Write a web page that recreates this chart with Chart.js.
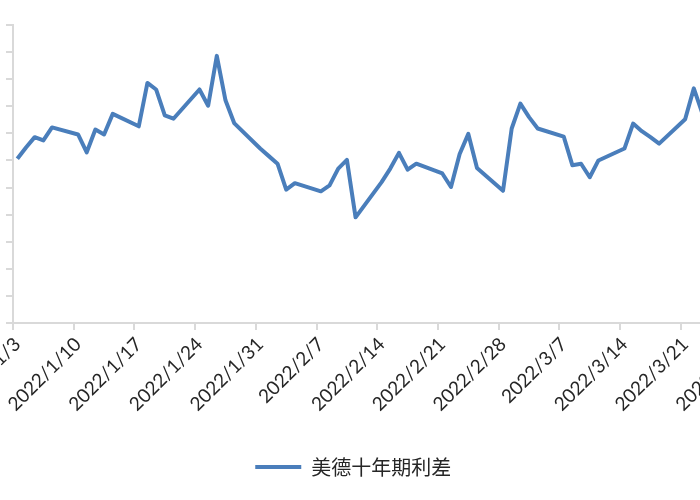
<!DOCTYPE html>
<html>
<head>
<meta charset="utf-8">
<title>美德十年期利差</title>
<script src="https://cdn.jsdelivr.net/npm/chart.js@4/dist/chart.umd.min.js"></script>
<style>
    html, body { margin: 0; padding: 0; background: #fff; }
    /* the picture is a crop of a wider chart: y labels sit off the left edge */
    #frame { position: relative; width: 700px; height: 500px; overflow: hidden; }
    #wrap { position: absolute; left: -55px; top: 0; width: 820px; height: 500px; }
</style>
</head>
<body>
<div id="frame">
    <div id="wrap"><canvas id="spreadChart"></canvas></div>
</div>
<script>
// ---- Data: US minus German 10y yield spread (%), trading days ----
const tradeDates = [
    '2022/1/3', '2022/1/4', '2022/1/5', '2022/1/6', '2022/1/7',
    '2022/1/10', '2022/1/11', '2022/1/12', '2022/1/13', '2022/1/14',
    '2022/1/17', '2022/1/18', '2022/1/19', '2022/1/20', '2022/1/21',
    '2022/1/24', '2022/1/25', '2022/1/26', '2022/1/27', '2022/1/28',
    '2022/1/31', '2022/2/1', '2022/2/2', '2022/2/3', '2022/2/4',
    '2022/2/7', '2022/2/8', '2022/2/9', '2022/2/10', '2022/2/11',
    '2022/2/14', '2022/2/15', '2022/2/16', '2022/2/17', '2022/2/18',
    '2022/2/21', '2022/2/22', '2022/2/23', '2022/2/24', '2022/2/25',
    '2022/2/28', '2022/3/1', '2022/3/2', '2022/3/3', '2022/3/4',
    '2022/3/7', '2022/3/8', '2022/3/9', '2022/3/10', '2022/3/11',
    '2022/3/14', '2022/3/15', '2022/3/16', '2022/3/17', '2022/3/18',
    '2022/3/21', '2022/3/22', '2022/3/23', '2022/3/24', '2022/3/25',
    '2022/3/28'
];
const spread = [
    1.753, 1.774, 1.793, 1.787, 1.811,
    1.798, 1.765, 1.807, 1.798, 1.836,
    1.813, 1.893, 1.881, 1.833, 1.827,
    1.881, 1.851, 1.943, 1.861, 1.819,
    1.772, 1.758, 1.744, 1.696, 1.708,
    1.693, 1.704, 1.735, 1.751, 1.645,
    1.710, 1.735, 1.764, 1.733, 1.744,
    1.726, 1.701, 1.762, 1.799, 1.736,
    1.694, 1.809, 1.855, 1.830, 1.809,
    1.794, 1.741, 1.744, 1.719, 1.750,
    1.772, 1.818, 1.804, 1.793, 1.781,
    1.826, 1.883, 1.836, 1.840, 1.860,
    1.850
];
const seriesName = '美德十年期利差';
const yMin = 1.45, yMax = 2.00, yStep = 0.05;
const labelEvery = 7; // one axis label per week

// ---- Date axis: every calendar day, weekends left empty ----
function fmt(d) {
    return d.getFullYear() + '/' + (d.getMonth() + 1) + '/' + d.getDate();
}
function parse(s) {
    const p = s.split('/').map(Number);
    return new Date(p[0], p[1] - 1, p[2]);
}
const dayLabels = [];
const dayValues = [];
const lookup = {};
tradeDates.forEach((d, i) => { lookup[d] = spread[i]; });
for (let d = parse(tradeDates[0]); d <= parse(tradeDates[tradeDates.length - 1]); d.setDate(d.getDate() + 1)) {
    const key = fmt(d);
    dayLabels.push(key);
    dayValues.push(key in lookup ? lookup[key] : null);
}

const axisGrey = '#d9d9d9';

new Chart(document.getElementById('spreadChart'), {
    type: 'line',
    data: {
        labels: dayLabels,
        datasets: [{
            label: seriesName,
            data: dayValues,
            borderColor: '#4a7ebb',
            backgroundColor: '#4a7ebb',
            borderWidth: 4,
            borderJoinStyle: 'round',
            pointRadius: 0,
            tension: 0,
            spanGaps: true
        }]
    },
    options: {
        responsive: true,
        maintainAspectRatio: false,
        animation: false,
        layout: { padding: { top: 25, right: 3.5, bottom: 13, left: 0 } },
        plugins: {
            tooltip: { enabled: false },
            legend: {
                position: 'bottom',
                labels: {
                    usePointStyle: true,
                    pointStyle: 'line',
                    pointStyleWidth: 46,
                    color: '#262626',
                    font: { family: '"Noto Sans CJK SC", "Noto Sans", sans-serif', size: 20 }
                }
            }
        },
        scales: {
            x: {
                type: 'category',
                offset: true,
                afterFit: (scale) => { scale.height = 124; },
                grid: {
                    offset: true,
                    drawOnChartArea: false,
                    drawTicks: true,
                    tickLength: 7,
                    lineWidth: 2,
                    color: (ctx) => ctx.index % labelEvery === 0 ? axisGrey : 'rgba(0,0,0,0)'
                },
                border: { color: axisGrey, width: 2 },
                ticks: {
                    autoSkip: false,
                    minRotation: 45,
                    maxRotation: 45,
                    color: '#262626',
                    font: { family: 'Lato, sans-serif', size: 19 },
                    callback: function (val, i) {
                        return i % labelEvery === 0 ? this.getLabelForValue(val) : '';
                    }
                }
            },
            y: {
                min: yMin,
                max: yMax,
                afterFit: (scale) => { scale.width = 68; },
                grid: {
                    drawOnChartArea: false,
                    drawTicks: true,
                    tickLength: 7,
                    lineWidth: 2,
                    color: axisGrey
                },
                border: { color: axisGrey, width: 2 },
                ticks: {
                    stepSize: yStep,
                    padding: 12,
                    color: '#262626',
                    font: { family: 'Lato, sans-serif', size: 19 },
                    callback: (v) => v.toFixed(2)
                }
            }
        }
    }
});
</script>
</body>
</html>
